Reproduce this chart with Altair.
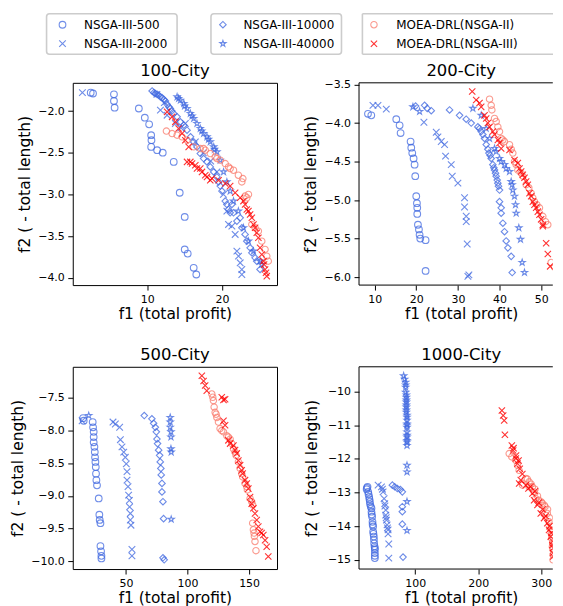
import altair as alt
import pandas as pd

METHODS = ["NSGA-III-500", "NSGA-III-2000", "NSGA-III-10000", "NSGA-III-40000",
           "MOEA-DRL(NSGA-II)", "MOEA-DRL(NSGA-III)"]
TITLES = ["100-City", "200-City", "500-City", "1000-City"]

# ---------------- 100-City ----------------
TL_500_X = [2.44, 2.75, 5.55, 5.55, 5.64, 8.88, 9.68, 10.26, 10.53, 10.57, 10.53, 11.33, 12.08, 13.55, 14.35, 15.02, 15.02, 15.42, 16.22, 16.57]
TL_500_Y = [-1.78, -1.79, -1.80, -1.88, -1.96, -1.97, -2.08, -2.16, -2.29, -2.35, -2.43, -2.47, -2.50, -2.61, -2.98, -3.27, -3.66, -3.71, -3.88, -3.96]
TL_2000_X = [1.33, 11.3, 11.77, 12.3, 12.66, 13.77, 14.5, 15.1, 16.44, 17.5, 18.5, 19.33, 20.2, 20.66, 20.88, 21.33, 21.77, 22.0, 22.22, 22.44, 22.66, 22.66]
TL_2000_Y = [-1.78, -1.80, -1.99, -1.90, -2.05, -2.15, -2.20, -2.15, -2.37, -2.50, -2.60, -2.73, -3.0, -3.2, -3.36, -3.38, -3.48, -3.68, -3.74, -3.82, -3.9, -3.96]
TL_10000_X = [10.66, 11.1, 11.55, 12.0, 12.44, 12.66, 13.1, 13.55, 14.44, 15.33, 16.22, 17.1, 18.0, 18.9, 19.55, 20.0, 20.44, 20.88, 21.33, 21.55, 22.44, 23.1, 24.0, 24.66, 25.1,
              10.9, 11.33, 11.77, 12.2, 12.9, 13.3, 14.0, 14.9, 15.8, 16.66, 17.55, 18.44, 19.33, 19.77, 20.66, 21.1, 22.0, 22.66, 23.33, 23.77, 24.44]
TL_10000_Y = [-1.76, -1.79, -1.81, -1.84, -1.88, -1.92, -1.97, -2.03, -2.13, -2.23, -2.37, -2.51, -2.61, -2.73, -2.85, -2.96, -3.08, -3.18, -3.12, -3.22, -3.28, -3.48, -3.70, -3.80, -3.90,
              -1.78, -1.80, -1.83, -1.86, -1.95, -2.0, -2.07, -2.17, -2.31, -2.43, -2.57, -2.67, -2.79, -2.9, -3.12, -3.22, -3.32, -3.40, -3.56, -3.64, -3.76]
TL_40000_X = [14.0, 14.2, 14.44, 14.9, 15.0, 15.33, 15.77, 16.0, 16.22, 16.66, 17.1, 17.3, 17.55, 18.0, 18.2, 18.44, 18.9, 19.0, 19.33, 19.77, 20.22, 20.66, 21.1, 21.55, 22.2, 22.88, 23.55, 24.22, 25.1, 25.3]
TL_40000_Y = [-1.83, -1.85, -1.87, -1.91, -1.94, -1.97, -2.03, -2.06, -2.09, -2.15, -2.21, -2.24, -2.27, -2.31, -2.34, -2.37, -2.43, -2.46, -2.49, -2.59, -2.73, -2.85, -2.96, -3.08, -3.2, -3.4, -3.56, -3.68, -3.8, -3.84]
TL_DRL2_X = [12.57, 13.33, 14.0, 14.66, 15.33, 16.22, 17.1, 17.77, 18.44, 19.1, 19.77, 20.44, 20.88, 21.55, 22.2, 22.8, 23.1, 23.33, 24.0, 24.88, 25.77, 26.0, 26.2,
             17.55, 19.33, 21.1, 22.66, 23.55, 24.44, 25.33]
TL_DRL2_Y = [-2.24, -2.27, -2.29, -2.31, -2.35, -2.43, -2.45, -2.47, -2.51, -2.55, -2.59, -2.63, -2.67, -2.71, -2.77, -2.81, -3.02, -3.04, -3.36, -3.44, -3.66, -3.74, -3.8,
             -2.45, -2.57, -2.69, -2.85, -3.0, -3.4, -3.56]
TL_DRL3_X = [12.66, 13.33, 13.77, 14.2, 14.66, 15.1, 15.55, 15.33, 16.0, 16.66, 17.33, 18.0, 18.66, 19.55, 20.44, 21.1, 21.77, 22.44, 23.1, 23.55, 24.0, 24.44, 24.88, 25.1, 25.55, 25.9, 26.0,
             15.77, 16.44, 17.1, 17.77, 18.44, 22.88, 23.33, 23.77, 24.22, 24.66, 25.33, 25.64, 25.77]
TL_DRL3_Y = [-2.01, -2.07, -2.13, -2.21, -2.27, -2.35, -2.43, -2.61, -2.63, -2.69, -2.73, -2.79, -2.81, -2.83, -2.87, -2.9, -2.98, -3.04, -3.12, -3.2, -3.28, -3.4, -3.52, -3.64, -3.8, -3.94, -3.98,
             -2.61, -2.65, -2.69, -2.77, -2.83, -3.08, -3.18, -3.24, -3.36, -3.46, -3.72, -3.84, -3.9]

# ---------------- 200-City ----------------
TR_500_X = [8.4, 9.2, 15.2, 16.0, 16.24, 18.64, 18.8, 19.04, 19.36, 19.6, 19.76, 20.0, 20.16, 20.24, 20.24, 20.4, 20.64, 20.8, 20.96, 22.24, 22.24]
TR_500_Y = [-3.88, -3.90, -3.95, -4.03, -4.13, -4.24, -4.32, -4.39, -4.46, -4.54, -4.69, -4.95, -5.04, -5.10, -5.18, -5.32, -5.38, -5.45, -5.50, -5.52, -5.92]
TR_2000_X = [9.6, 10.8, 12.8, 21.84, 24.8, 25.2, 26.0, 26.8, 27.04, 28.4, 28.64, 30.0, 31.6, 31.6, 32.0, 32.0, 32.24, 32.64, 32.4]
TR_2000_Y = [-3.77, -3.77, -3.82, -3.99, -4.12, -4.18, -4.24, -4.28, -4.43, -4.54, -4.69, -4.78, -4.97, -5.09, -5.21, -5.28, -5.57, -5.97, -5.99]
TR_10000_X = [19.84, 22.0, 22.64, 23.6, 28.0, 30.4, 32.0, 33.2, 34.8, 35.6, 36.4, 36.8, 37.44, 38.0, 38.4, 38.8, 39.2, 39.6, 40.0, 40.0, 40.4, 40.4, 40.8, 41.2, 41.6, 42.0, 42.8, 43.04,
              35.2, 36.0, 37.2, 37.76, 38.64, 39.04, 39.44, 39.76]
TR_10000_Y = [-3.78, -3.77, -3.81, -3.84, -3.83, -3.90, -3.95, -4.0, -4.05, -4.11, -4.2, -4.28, -4.39, -4.46, -4.54, -4.61, -4.69, -4.78, -4.87, -5.02, -5.1, -5.17, -5.30, -5.41, -5.53, -5.62, -5.73, -5.94,
              -4.07, -4.15, -4.34, -4.42, -4.58, -4.65, -4.74, -4.82]
TR_40000_X = [19.2, 20.8, 33.6, 35.6, 36.8, 37.6, 38.8, 40.0, 41.2, 42.4, 42.8, 43.2, 43.6, 43.84, 44.0, 44.64, 45.04, 45.44, 46.0,
              39.2, 40.4, 41.6, 43.04]
TR_40000_Y = [-3.79, -3.85, -3.81, -3.90, -4.07, -4.20, -4.33, -4.46, -4.54, -4.63, -4.76, -4.87, -4.95, -5.06, -5.17, -5.36, -5.51, -5.81, -5.94,
              -4.37, -4.5, -4.59, -4.8]
TR_DRL2_X = [37.6, 38.0, 38.16, 38.8, 39.6, 40.4, 41.2, 42.4, 43.2, 43.6, 44.4, 45.6, 46.4, 47.6, 48.4, 49.6, 50.4, 51.6, 52.4, 53.2,
             39.2, 40.0, 40.8, 42.8, 44.0, 45.2, 47.04, 48.0, 48.96, 51.04]
TR_DRL2_Y = [-3.69, -3.77, -3.83, -3.94, -4.05, -4.2, -4.24, -4.28, -4.39, -4.5, -4.61, -4.69, -4.8, -4.91, -5.02, -5.1, -5.21, -5.32, -5.81, -5.87,
             -3.98, -4.11, -4.22, -4.34, -4.54, -4.65, -4.84, -4.97, -5.06, -5.28]
TR_DRL3_X = [33.44, 34.4, 35.6, 36.4, 37.2, 38.4, 39.6, 40.4, 42.4, 43.6, 44.4, 45.2, 46.0, 46.8, 47.2, 48.0, 48.8, 49.6, 50.0, 50.4, 51.2, 51.6, 52.16,
             35.2, 36.8, 37.6, 38.8, 40.0, 44.8, 45.6, 46.4, 47.6, 48.4, 49.2, 50.4]
TR_DRL3_Y = [-3.59, -3.70, -3.79, -3.90, -4.0, -4.11, -4.22, -4.33, -4.35, -4.48, -4.52, -4.63, -4.71, -4.8, -4.91, -5.02, -5.1, -5.19, -5.25, -5.34, -5.56, -5.7, -5.86,
             -3.74, -3.94, -4.05, -4.15, -4.26, -4.59, -4.67, -4.76, -4.95, -5.06, -5.15, -5.32]

# ---------------- 500-City ----------------
BL_500_X = [15.1, 15.6, 22.9, 23.2, 23.7, 23.7, 23.7, 24.3, 24.6, 24.8, 25.1, 25.4, 25.6, 25.9, 26.4, 27.8, 28.3, 28.6, 29.2, 29.2, 29.7, 30.0, 30.0]
BL_500_Y = [-7.81, -7.85, -7.87, -7.95, -8.02, -8.10, -8.18, -8.25, -8.33, -8.41, -8.48, -8.56, -8.66, -8.76, -8.84, -9.04, -9.29, -9.37, -9.42, -9.77, -9.85, -9.92, -9.96]
BL_2000_X = [14.3, 39.4, 41.3, 44.8, 45.4, 46.7, 48.1, 49.4, 50.2, 50.8, 50.8, 51.6, 52.1, 52.7, 52.9, 53.5, 53.5, 54.0, 54.8, 54.8]
BL_2000_Y = [-7.85, -7.87, -7.9, -7.95, -8.14, -8.25, -8.33, -8.41, -8.51, -8.63, -8.76, -8.86, -8.99, -9.07, -9.17, -9.27, -9.37, -9.45, -9.82, -9.92]
BL_10000_X = [64.8, 71.0, 72.4, 73.8, 74.6, 75.1, 75.6, 76.5, 77.3, 77.8, 78.3, 78.6, 79.2, 79.2, 80.0, 80.5, 80.0, 81.0]
BL_10000_Y = [-7.77, -7.82, -7.89, -7.95, -8.02, -8.13, -8.20, -8.30, -8.38, -8.48, -8.58, -8.68, -8.81, -8.94, -9.09, -9.35, -9.95, -9.98]
BL_40000_X = [19.7, 85.9, 85.9, 85.9, 86.5, 86.5, 86.5, 86.7, 86.7]
BL_40000_Y = [-7.77, -7.80, -7.87, -7.95, -8.02, -8.10, -8.28, -8.33, -9.36]
BL_DRL2_X = [119.7, 121.0, 121.6, 122.4, 123.8, 125.1, 126.4, 129.2, 131.9, 134.6, 135.9, 137.3, 139.4, 141.3, 142.7, 144.8, 146.7, 148.6, 150.8, 152.9, 152.9, 153.5, 154.3, 154.8, 155.6,
             120.5, 123.2, 127.8, 133.2, 138.6, 144.0, 148.1, 152.1, 154.0]
BL_DRL2_Y = [-7.44, -7.54, -7.64, -7.72, -7.80, -7.87, -7.97, -8.02, -8.08, -8.13, -8.20, -8.28, -8.38, -8.48, -8.58, -8.71, -8.81, -8.91, -9.04, -9.14, -9.42, -9.52, -9.62, -9.70, -9.84,
             -7.49, -7.75, -8.0, -8.10, -8.33, -8.66, -8.86, -9.09, -9.57]
BL_DRL3_X = [111.6, 113.0, 114.3, 115.6, 127.8, 129.2, 129.2, 130.5, 133.2, 137.3, 140.0, 141.3, 142.7, 144.8, 146.7, 149.4, 150.8, 152.1, 154.8, 156.2, 158.9, 161.6, 163.0, 164.3, 165.6,
             130.5, 134.6, 138.6, 144.0, 148.1, 153.5, 157.5, 160.2]
BL_DRL3_Y = [-7.16, -7.24, -7.31, -7.39, -7.49, -7.53, -7.85, -7.92, -8.15, -8.23, -8.35, -8.46, -8.53, -8.66, -8.76, -8.89, -9.02, -9.12, -9.27, -9.37, -9.55, -9.60, -9.68, -9.78, -9.93,
             -7.52, -8.20, -8.30, -8.61, -8.81, -9.19, -9.47, -9.57]

# ---------------- 1000-City ----------------
BR_500_X = [24.4, 23.0, 25.4, 27.0, 27.5, 28.1, 29.6, 30.7, 30.7, 31.7, 32.3, 33.3, 33.3, 34.4, 34.9, 36.0, 36.0, 36.0,
            23.5, 26.0, 28.5, 31.0, 32.5, 33.8, 34.6, 35.5, 36.0, 36.0]
BR_500_Y = [-12.83, -12.90, -12.98, -13.13, -13.20, -13.27, -13.42, -13.47, -13.57, -13.72, -13.87, -14.01, -14.16, -14.31, -14.51, -14.65, -14.80, -14.95,
            -12.86, -13.05, -13.35, -13.65, -13.95, -14.23, -14.4, -14.6, -14.7, -14.88]
BR_2000_X = [41.2, 46.5, 49.1, 50.7, 51.7, 53.3, 53.3, 54.4, 55.4, 57.0, 57.0, 58.1, 58.1, 48.0, 52.0, 54.0, 56.0]
BR_2000_Y = [-12.78, -12.83, -12.98, -13.18, -13.33, -13.52, -13.67, -13.82, -13.96, -14.11, -14.23, -14.53, -14.95, -12.9, -13.4, -13.75, -14.05]
BR_10000_X = [63.8, 67.5, 71.7, 76.5, 79.6, 79.6, 79.6, 79.6, 80.7]
BR_10000_Y = [-12.78, -12.83, -12.88, -12.91, -12.98, -13.42, -13.57, -13.94, -14.92]
BR_40000_X = [81.7, 83.3, 84.9, 84.9, 84.9, 86.0, 86.0, 86.0, 86.0, 87.0, 87.0, 87.0, 87.0, 87.0, 87.0, 87.0, 87.0, 87.0, 87.0,
              84.9, 86.0, 86.0, 86.0, 86.0, 87.0, 87.0, 87.0, 87.0, 87.0, 87.0]
BR_40000_Y = [-9.53, -9.63, -9.72, -9.87, -10.02, -10.17, -10.31, -10.46, -10.61, -10.76, -10.96, -11.06, -11.30, -11.45, -11.60, -12.19, -12.39, -13.27, -14.13,
              -9.80, -10.1, -10.25, -10.4, -10.55, -10.7, -10.85, -11.0, -11.2, -11.35, -11.5]
BR_DRL2_X = [249.1, 253.3, 259.6, 262.3, 264.9, 270.2, 275.4, 280.7, 280.7, 286.0, 288.6, 291.2, 296.5, 301.7, 306.0, 309.6, 312.3, 315.0, 316.5, 317.6, 318.6, 318.6,
             278.0, 284.0, 290.0, 294.0, 300.0, 305.0, 310.0, 313.0, 316.0, 317.0, 318.0, 318.6]
BR_DRL2_Y = [-11.84, -11.94, -12.04, -12.19, -12.34, -12.78, -12.58, -12.68, -12.83, -12.83, -12.98, -13.18, -13.23, -13.32, -13.42, -13.62, -13.87, -14.11, -14.36, -14.61, -14.85, -15.0,
             -12.6, -12.75, -12.9, -13.1, -13.28, -13.38, -13.5, -13.75, -14.0, -14.25, -14.5, -14.7]
BR_DRL3_X = [237.5, 239.6, 241.2, 242.3, 253.3, 255.4, 259.6, 262.3, 264.9, 265.9, 267.5, 275.4, 279.6, 286.0, 288.6, 293.9, 299.2, 304.4, 309.6, 312.3, 315.0, 317.6, 318.6,
             256.0, 260.0, 264.0, 270.0, 283.0, 290.0, 296.0, 302.0, 307.0, 313.0, 316.0, 318.0, 319.0, 319.0]
BR_DRL3_Y = [-10.56, -10.71, -10.86, -11.28, -11.60, -11.75, -11.99, -12.14, -12.73, -12.29, -12.63, -12.78, -12.88, -13.03, -13.23, -13.37, -13.62, -13.76, -13.91, -14.11, -14.31, -14.56, -14.80,
             -11.68, -11.9, -12.05, -12.45, -12.83, -12.96, -13.3, -13.5, -13.7, -14.0, -14.2, -14.45, -14.65, -14.9]

# ---------------- styling / layout ----------------
BLUE, SALMON, RED = "#4169E1", "#FA8072", "#FF0000"
X_PATH = "M-1,-1L1,1M-1,1L1,-1"
STAR_PATH = ("M0,-1L0.2245,-0.309L0.951,-0.309L0.363,0.118L0.588,0.809L0,0.382"
             "L-0.588,0.809L-0.363,0.118L-0.951,-0.309L-0.2245,-0.309Z")
COLORS = [BLUE, BLUE, BLUE, BLUE, SALMON, RED]
SHAPES = ["circle", X_PATH, "diamond", STAR_PATH, "circle", X_PATH]
SIZES = [45, 40, 55, 60, 45, 40]
OPACITIES = [0.75, 0.8, 0.75, 0.75, 0.8, 0.85]
FONT = "DejaVu Sans"
W, H = 205, 203
WR = 194.5  # right-hand panels are cut by the window edge, as in the original
TITLE_Y = -6.5

# legend geometry, in pixels relative to the top-left panel's plot origin
BOX_X1 = [-26.3, 138.7]
BOX_X2 = [104.7, 269.7]
BOX3_X1 = 290.7
BOX3_X2 = 482.0
BOX_Y1, BOX_Y2 = -69.3, -28.7
MARK_X = [-10.3, -10.3, 150.7, 150.7, 302.3, 302.3]
TEXT_X = [11.3, 11.3, 171.3, 171.3, 324.7, 324.7]
ROW_Y = [-58.3, -39.3, -58.3, -39.3, -58.3, -39.3]


def enc_common():
    return dict(
        shape=alt.Shape("method:N", scale=alt.Scale(domain=METHODS, range=SHAPES), legend=None),
        color=alt.Color("method:N", scale=alt.Scale(domain=METHODS, range=COLORS), legend=None),
        size=alt.Size("method:N", scale=alt.Scale(domain=METHODS, range=SIZES), legend=None),
        opacity=alt.Opacity("method:N", scale=alt.Scale(domain=METHODS, range=OPACITIES), legend=None),
    )


def pix(width):
    px = alt.X("x:Q", scale=alt.Scale(domain=[0, width], nice=False, zero=False), axis=None)
    py = alt.Y("y:Q", scale=alt.Scale(domain=[H, 0], nice=False, zero=False), axis=None)
    return px, py


def panel(series, title, xdom, ydom, xvals, yvals, yfmt, ytitle_x, width, open_right, extra=()):
    rows = []
    for m, xs, ys in zip(METHODS, series[0::2], series[1::2]):
        for a, b in zip(xs, ys):
            rows.append({"method": m, "f1": a, "f2": b})
    df = pd.DataFrame(rows)
    pts = alt.Chart(df).mark_point(filled=False, strokeWidth=1.1, clip=True).encode(
        x=alt.X("f1:Q", scale=alt.Scale(domain=xdom, nice=False, zero=False),
                axis=alt.Axis(values=xvals, format="d", title="f1 (total profit)",
                              titleX=W / 2, titleY=21.7, titleBaseline="top",
                              titleAlign="center")),
        y=alt.Y("f2:Q", scale=alt.Scale(domain=ydom, nice=False, zero=False),
                axis=alt.Axis(values=yvals, format=yfmt, title="f2 ( - total length)",
                              titleX=ytitle_x, titleY=H / 2, titleAngle=270,
                              titleBaseline="bottom", titleAlign="center",
                              minExtent=64, maxExtent=64)),
        **enc_common(),
    )
    px, py = pix(width)
    ttl = alt.Chart(pd.DataFrame({"t": [title], "x": [W / 2], "y": [TITLE_Y]})).mark_text(
        align="center", baseline="alphabetic", fontSize=16.5, font=FONT, color="black"
    ).encode(x=px, y=py, text="t:N")
    layers = [pts, ttl]
    if open_right:
        frame = pd.DataFrame({"x": [0, 0, 0], "x2": [0, width, width],
                              "y": [0, 0, H], "y2": [H, 0, H]})
        layers.append(alt.Chart(frame).mark_rule(color="black", strokeWidth=1).encode(
            x=px, x2="x2:Q", y=py, y2="y2:Q"))
        view = alt.ViewBackground(strokeWidth=0)
    else:
        view = alt.ViewBackground(stroke="black", strokeWidth=1)
    layers.extend(extra)
    return alt.layer(*layers).resolve_scale(x="independent", y="independent").properties(
        width=width, height=H, view=view)


# legend drawn on the top-left panel, above the plots (pixel scales)
lx, ly = pix(W)
boxes = alt.Chart(pd.DataFrame({"x": BOX_X1, "x2": BOX_X2, "y": [BOX_Y1] * 2, "y2": [BOX_Y2] * 2})).mark_rect(
    fill="white", stroke="#cccccc", strokeWidth=1.6, cornerRadius=3
).encode(x=lx, x2="x2:Q", y=ly, y2="y2:Q")
box3 = alt.Chart(pd.DataFrame({"x": [BOX3_X1] * 3, "x2": [BOX3_X1, BOX3_X2, BOX3_X2],
                               "y": [BOX_Y1, BOX_Y1, BOX_Y2], "y2": [BOX_Y2, BOX_Y1, BOX_Y2]})
                 ).mark_rule(color="#cccccc", strokeWidth=1.6).encode(x=lx, x2="x2:Q", y=ly, y2="y2:Q")
lpts = alt.Chart(pd.DataFrame({"method": METHODS, "x": MARK_X, "y": ROW_Y})).mark_point(
    filled=False, strokeWidth=1.1).encode(x=lx, y=ly, **enc_common())
ltxt = alt.Chart(pd.DataFrame({"label": METHODS, "x": TEXT_X, "y": ROW_Y})).mark_text(
    align="left", baseline="middle", fontSize=12, font=FONT, color="black"
).encode(x=lx, y=ly, text="label:N")

tl = panel([TL_500_X, TL_500_Y, TL_2000_X, TL_2000_Y, TL_10000_X, TL_10000_Y,
            TL_40000_X, TL_40000_Y, TL_DRL2_X, TL_DRL2_Y, TL_DRL3_X, TL_DRL3_Y],
           TITLES[0], [0.04, 27.37], [-4.087, -1.662], [10, 20],
           [-2.0, -2.5, -3.0, -3.5, -4.0], ".1f", -40, W, False,
           extra=(boxes, box3, lpts, ltxt))
tr = panel([TR_500_X, TR_500_Y, TR_2000_X, TR_2000_Y, TR_10000_X, TR_10000_Y,
            TR_40000_X, TR_40000_Y, TR_DRL2_X, TR_DRL2_Y, TR_DRL3_X, TR_DRL3_Y],
           TITLES[1], [6.25, 52.8], [-6.103, -3.478], [10, 20, 30, 40, 50],
           [-3.5, -4.0, -4.5, -5.0, -5.5, -6.0], ".1f", -41, WR, True)
bl = panel([BL_500_X, BL_500_Y, BL_2000_X, BL_2000_Y, BL_10000_X, BL_10000_Y,
            BL_40000_X, BL_40000_Y, BL_DRL2_X, BL_DRL2_Y, BL_DRL3_X, BL_DRL3_Y],
           TITLES[2], [6.7, 172.7], [-10.122, -7.023], [50, 100, 150],
           [-7.5, -8.0, -8.5, -9.0, -9.5, -10.0], ".1f", -47, W, False)
br = panel([BR_500_X, BR_500_Y, BR_2000_X, BR_2000_Y, BR_10000_X, BR_10000_Y,
            BR_40000_X, BR_40000_Y, BR_DRL2_X, BR_DRL2_Y, BR_DRL3_X, BR_DRL3_Y],
           TITLES[3], [10.9, 318.3], [-15.275, -9.26], [100, 200, 300],
           [-10, -11, -12, -13, -14, -15], "d", -39.5, WR, True)

chart = alt.concat(tl, tr, bl, br, columns=2, bounds="flush",
                   spacing={"row": 82, "column": 82.3}).properties(
    padding={"left": 0, "top": 3, "right": 0, "bottom": 0}
).configure_axis(
    grid=False, domain=False, tickColor="black", tickSize=5, tickWidth=1,
    labelFontSize=11, labelFont=FONT, labelColor="black", labelPadding=3.5,
    labelFlush=False, titleFontSize=15.5, titleFont=FONT, titleFontWeight="normal",
    titleColor="black"
).configure_view(strokeWidth=0)

chart.save("out.html", embed_options={"renderer": "svg", "actions": False})
